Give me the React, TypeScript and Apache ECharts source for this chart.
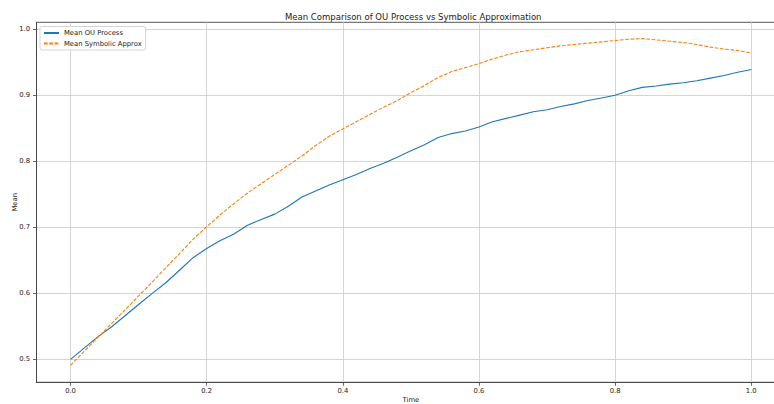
import React, { useEffect, useRef } from "react";
import * as echarts from "echarts";

const time = [
  0.0, 0.02, 0.04, 0.06, 0.08, 0.1, 0.12, 0.14, 0.16, 0.18, 0.2, 0.22, 0.24, 0.26, 0.28, 0.3, 0.32,
  0.34, 0.36, 0.38, 0.4, 0.42, 0.44, 0.46, 0.48, 0.5, 0.52, 0.54, 0.56, 0.58, 0.6, 0.62, 0.64, 0.66,
  0.68, 0.7, 0.72, 0.74, 0.76, 0.78, 0.8, 0.82, 0.84, 0.86, 0.88, 0.9, 0.92, 0.94, 0.96, 0.98, 1.0,
];

const ouMean = [
  0.5, 0.517, 0.534, 0.549, 0.566, 0.583, 0.6, 0.616, 0.635, 0.654, 0.668, 0.68, 0.69, 0.703, 0.712,
  0.72, 0.732, 0.746, 0.755, 0.764, 0.772, 0.78, 0.789, 0.797, 0.806, 0.816, 0.825, 0.836, 0.842,
  0.846, 0.852, 0.86, 0.865, 0.87, 0.875, 0.878, 0.883, 0.887, 0.892, 0.896, 0.9, 0.907, 0.912,
  0.914, 0.917, 0.919, 0.922, 0.926, 0.93, 0.935, 0.939,
];

const symbolicMean = [
  0.491, 0.512, 0.533, 0.554, 0.575, 0.596, 0.617, 0.639, 0.66, 0.682, 0.701, 0.719, 0.736, 0.752,
  0.766, 0.78, 0.794, 0.808, 0.824, 0.838, 0.849, 0.86, 0.871, 0.882, 0.892, 0.904, 0.915, 0.927,
  0.936, 0.942, 0.948, 0.955, 0.961, 0.966, 0.969, 0.972, 0.975, 0.977, 0.979, 0.981, 0.983, 0.985,
  0.986, 0.984, 0.982, 0.98, 0.977, 0.973, 0.97, 0.968, 0.964,
];

const xTicks = [0.0, 0.2, 0.4, 0.6, 0.8, 1.0];
const yTicks = [0.5, 0.6, 0.7, 0.8, 0.9, 1.0];

const seriesNames = ["Mean OU Process", "Mean Symbolic Approx"];
const chartTitle = "Mean Comparison of OU Process vs Symbolic Approximation";

const FONT = "DejaVu Sans";

export default function App() {
  const ref = useRef<HTMLDivElement>(null);

  useEffect(() => {
    document.body.style.margin = "0";
    document.body.style.overflow = "hidden";
    const chart = echarts.init(ref.current!, null, { renderer: "svg" });
    const axisColor = "#444";
    const gridColor = "#d0d0d0";
    chart.setOption({
      animation: false,
      backgroundColor: "#fff",
      title: {
        text: chartTitle,
        left: 285,
        top: 12.3,
        padding: 0,
        textStyle: { fontFamily: FONT, fontSize: 8.5, fontWeight: "normal", color: "#222" },
      },
      legend: {
        orient: "vertical",
        left: 40,
        top: 26.5,
        padding: [3, 4, 3, 3],
        itemWidth: 15,
        itemHeight: 7,
        itemGap: 3.5,
        backgroundColor: "#fff",
        borderColor: "#d5d5d5",
        borderWidth: 1,
        borderRadius: 2,
        itemStyle: { opacity: 0 },
        textStyle: { fontFamily: FONT, fontSize: 6.8, color: "#222" },
        data: seriesNames,
      },
      grid: {
        left: 36.5,
        right: -11.3,
        top: 22.3,
        bottom: 21.7,
        containLabel: false,
        outerBoundsMode: "none",
        show: true,
        borderColor: axisColor,
        borderWidth: 0.9,
        backgroundColor: "transparent",
      },
      xAxis: {
        type: "value",
        min: -0.05,
        max: 1.05,
        name: "Time",
        nameLocation: "middle",
        nameGap: 14.5,
        nameMoveOverlap: false,
        nameTextStyle: { fontFamily: FONT, fontSize: 6.8, color: "#222" },
        axisLine: { show: true, onZero: false, lineStyle: { color: axisColor, width: 0.9 } },
        axisTick: { show: true, length: 3.5, inside: false, customValues: xTicks, lineStyle: { color: axisColor, width: 0.8 } },
        axisLabel: {
          customValues: xTicks,
          margin: 5,
          fontFamily: FONT,
          fontSize: 6.8,
          color: "#222",
          formatter: (v: number) => v.toFixed(1),
        },
        splitLine: { show: true, lineStyle: { color: gridColor, width: 0.9 } },
      },
      yAxis: {
        type: "value",
        min: 0.4652,
        max: 1.0106,
        name: "Mean",
        nameLocation: "middle",
        nameGap: 18.5,
        nameMoveOverlap: false,
        nameTextStyle: { fontFamily: FONT, fontSize: 6.8, color: "#222" },
        axisLine: { show: true, onZero: false, lineStyle: { color: axisColor, width: 0.9 } },
        axisTick: { show: true, length: 3.5, inside: false, customValues: yTicks, lineStyle: { color: axisColor, width: 0.8 } },
        axisLabel: {
          customValues: yTicks,
          margin: 6.5,
          fontFamily: FONT,
          fontSize: 6.8,
          color: "#222",
          formatter: (v: number) => v.toFixed(1),
        },
        splitLine: { show: true, lineStyle: { color: gridColor, width: 0.9 } },
      },
      series: [
        {
          name: seriesNames[0],
          type: "line",
          data: time.map((t, i) => [t, ouMean[i]]),
          showSymbol: false,
          symbol: "none",
          lineStyle: { color: "#1f77b4", width: 1.1 },
          itemStyle: { color: "#1f77b4" },
          z: 3,
        },
        {
          name: seriesNames[1],
          type: "line",
          data: time.map((t, i) => [t, symbolicMean[i]]),
          showSymbol: false,
          symbol: "none",
          lineStyle: { color: "#ff7f0e", width: 1.1, type: [3.7, 1.6] },
          itemStyle: { color: "#ff7f0e" },
          z: 4,
        },
      ],
    });
    return () => chart.dispose();
  }, []);

  return (
    <div
      ref={ref}
      style={{ position: "fixed", left: 0, top: 0, width: 774, height: 404 }}
    />
  );
}
